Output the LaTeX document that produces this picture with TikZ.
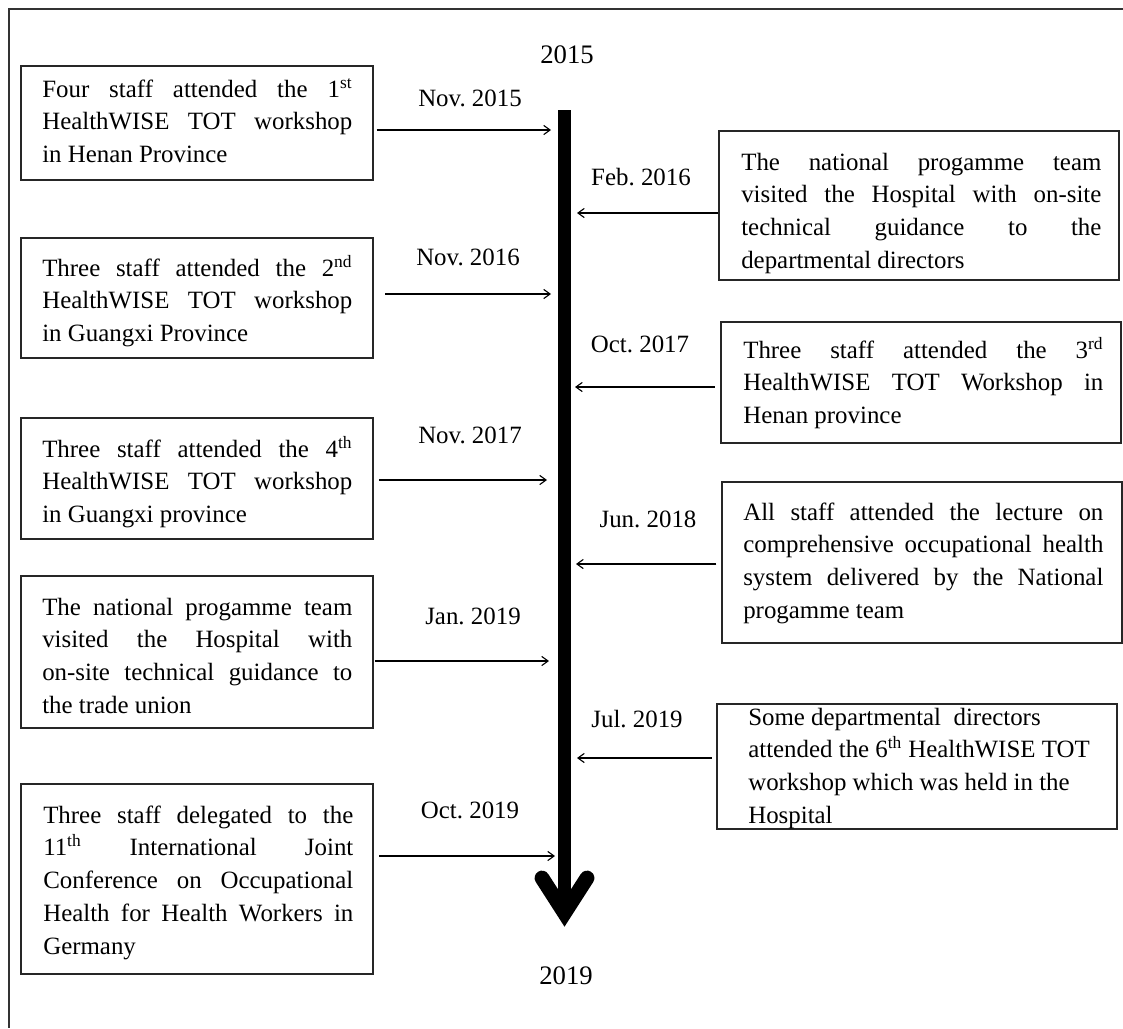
\documentclass[tikz,border=0pt]{standalone}
\usepackage{fontspec}
\setmainfont{Liberation Serif}
\usetikzlibrary{positioning, arrows.meta}
\newcommand{\jline}[1]{\makebox[\linewidth][s]{\spaceskip=0pt\xspaceskip=0pt\relax #1}\\}

\begin{document}
\frenchspacing
\begin{tikzpicture}[
    x=0.025cm, y=-0.025cm,
    evbox/.style={rectangle, draw=black!85, line width=1.1pt, inner sep=0pt},
    lbox/.style={evbox, minimum width=8.8cm},
    rbox/.style={evbox, minimum width=10cm},
    evtext/.style={anchor=base west, inner sep=0pt, align=justify, font=\fontsize{17.7}{23.3}\selectfont},
    ltext/.style={evtext, text width=7.75cm},
    rtext/.style={evtext, text width=9cm},
    datelbl/.style={anchor=base, inner sep=0pt, font=\fontsize{17.7}{21}\selectfont},
    yearlbl/.style={anchor=base, inner sep=0pt, font=\fontsize{19}{22}\selectfont},
    arrow/.style={-{Straight Barb[length=4.5pt, width=6.5pt]}, line width=0.8pt},
    timeline/.style={line width=0.33cm}
]
    \useasboundingbox (0,0) rectangle (1123,1028);

    % Frame
    \draw[line width=1.2pt, black!80] (1123,9) -- (9,9) -- (9,1028);

    % Timeline
    \coordinate (tltop) at (564.5,110);
    \coordinate (tlend) at (564.5,913);
    \draw[timeline] (tltop) -- (tlend);
    \draw[timeline, line width=0.37cm, line cap=round] (542,878) -- (tlend) -- (587,878);
    \node[yearlbl] (y15) at (567,63) {2015};
    \node[yearlbl] (y19) at (566,984) {2019};

    % Events on the left
    \node[lbox, minimum height=2.85cm] (nov15) at (197,123) {};
    \node[ltext] (nov15t) at (42,97) {\jline{Four staff attended the 1\textsuperscript{st}}\jline{HealthWISE TOT workshop}in Henan Province};
    \node[datelbl] (nov15d) at (470,106) {Nov. 2015};

    \node[lbox, minimum height=3cm] (nov16) at (197,298) {};
    \node[ltext] (nov16t) at (42,276) {\jline{Three staff attended the 2\textsuperscript{nd}}\jline{HealthWISE TOT workshop}in Guangxi Province};
    \node[datelbl] (nov16d) at (468,265) {Nov. 2016};

    \node[lbox, minimum height=3.025cm] (nov17) at (197,478.5) {};
    \node[ltext] (nov17t) at (42,457) {\jline{Three staff attended the 4\textsuperscript{th}}\jline{HealthWISE TOT workshop}in Guangxi province};
    \node[datelbl] (nov17d) at (470,443) {Nov. 2017};

    \node[lbox, minimum height=3.8cm] (jan19) at (197,652) {};
    \node[ltext] (jan19t) at (42,615) {\jline{The national progamme team}\jline{visited the Hospital with}\jline{on-site technical guidance to}the trade union};
    \node[datelbl] (jan19d) at (473,624) {Jan. 2019};

    \node[lbox, minimum height=4.75cm] (oct19) at (197,879) {};
    \node[ltext] (oct19t) at (43,823) {\jline{Three staff delegated to the}\jline{11\textsuperscript{th} International Joint}\jline{Conference on Occupational}\jline{Health for Health Workers in}Germany};
    \node[datelbl] (oct19d) at (470,818) {Oct. 2019};

    % Events on the right
    \node[rbox, minimum height=3.725cm] (feb16) at (919,205.5) {};
    \node[rtext] (feb16t) at (741,170) {\jline{The national progamme team}\jline{visited the Hospital with on-site}\jline{technical guidance to the}departmental directors};
    \node[datelbl] (feb16d) at (641,185) {Feb. 2016};

    \node[rbox, minimum height=3.025cm] (oct17) at (921,382.5) {};
    \node[rtext] (oct17t) at (743,358) {\jline{Three staff attended the 3\textsuperscript{rd}}\jline{HealthWISE TOT Workshop in}Henan province};
    \node[datelbl] (oct17d) at (640,352) {Oct. 2017};

    \node[rbox, minimum height=4.025cm] (jun18) at (922,562.5) {};
    \node[rtext] (jun18t) at (743,520) {\jline{All staff attended the lecture on}\jline{comprehensive occupational health}\jline{system delivered by the National}progamme team};
    \node[datelbl] (jun18d) at (648,527) {Jun. 2018};

    \node[rbox, minimum height=3.125cm] (jul19) at (917,766.5) {};
    \node[rtext] (jul19t) at (748,725) {Some departmental\ \ directors\\attended the 6\textsuperscript{th} HealthWISE TOT\\workshop which was held in the\\Hospital};
    \node[datelbl] (jul19d) at (637,727) {Jul. 2019};

    % Arrows to the timeline
    \coordinate (nov15e) at (551,130);
    \coordinate (nov16e) at (551,294);
    \coordinate (nov17e) at (547,480);
    \coordinate (jan19e) at (549,661);
    \coordinate (oct19e) at (555,856);
    \coordinate (feb16e) at (577,213);
    \coordinate (oct17e) at (575,387);
    \coordinate (jun18e) at (576,564);
    \coordinate (jul19e) at (577,758);
    \draw[arrow, shorten <=2pt] (nov15.east |- nov15e) -- (nov15e);
    \draw[arrow, shorten <=8pt] (nov16.east |- nov16e) -- (nov16e);
    \draw[arrow, shorten <=4pt] (nov17.east |- nov17e) -- (nov17e);
    \draw[arrow, shorten <=0.7pt] (jan19.east |- jan19e) -- (jan19e);
    \draw[arrow, shorten <=4pt] (oct19.east |- oct19e) -- (oct19e);
    \draw[arrow] (feb16.west |- feb16e) -- (feb16e);
    \draw[arrow, shorten <=4pt] (oct17.west |- oct17e) -- (oct17e);
    \draw[arrow, shorten <=3.5pt] (jun18.west |- jun18e) -- (jun18e);
    \draw[arrow, shorten <=3pt] (jul19.west |- jul19e) -- (jul19e);
\end{tikzpicture}
\end{document}
